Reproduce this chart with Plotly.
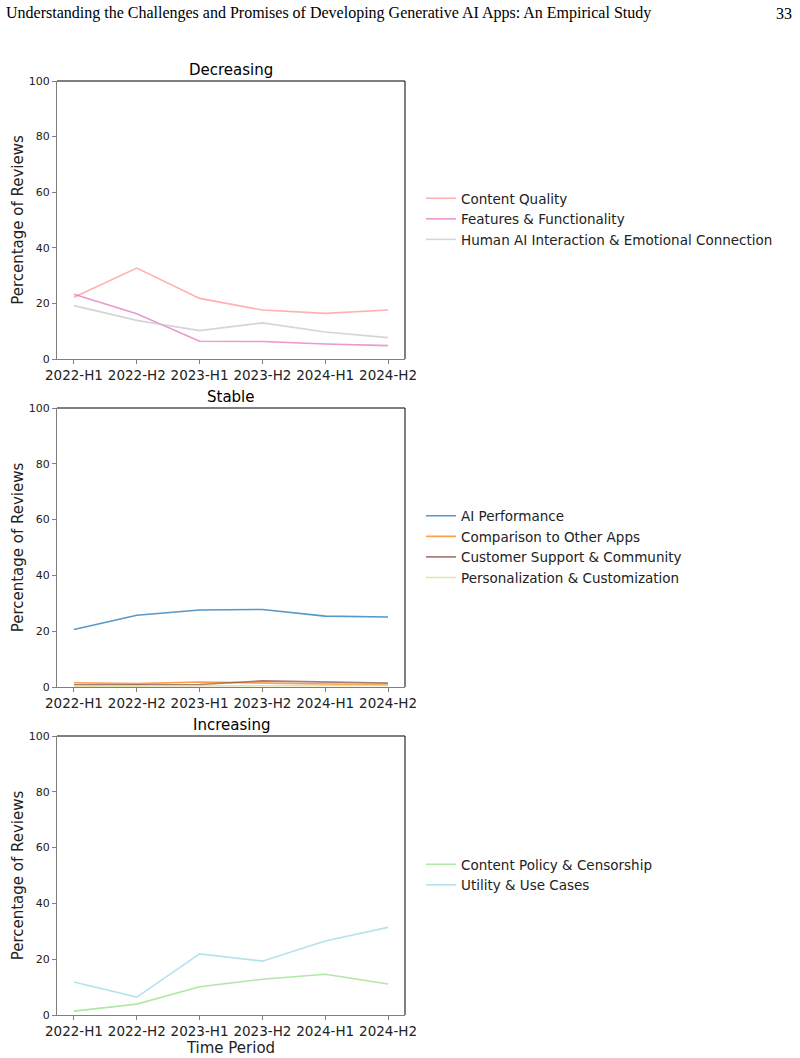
import plotly.graph_objects as go

periods = ["2022-H1", "2022-H2", "2023-H1", "2023-H2", "2024-H1", "2024-H2"]

# Decreasing
content_quality = [22.2, 32.7, 21.8, 17.6, 16.4, 17.6]
features_functionality = [23.3, 16.3, 6.4, 6.3, 5.4, 4.8]
human_ai_interaction = [19.2, 13.9, 10.2, 13.0, 9.7, 7.7]

# Stable
ai_performance = [20.6, 25.7, 27.6, 27.8, 25.4, 25.1]
comparison_other_apps = [1.5, 1.2, 1.8, 1.5, 1.0, 0.7]
customer_support = [0.8, 0.8, 0.9, 2.2, 1.7, 1.4]
personalization = [0.3, 0.3, 0.3, 0.5, 0.5, 0.6]

# Increasing
content_policy = [1.4, 3.9, 10.1, 12.8, 14.6, 11.1]
utility_use_cases = [11.8, 6.4, 21.9, 19.3, 26.5, 31.4]

groups = [
    ("Decreasing", [
        ("Content Quality", content_quality, "#ff9896"),
        ("Features & Functionality", features_functionality, "#e377c2"),
        ("Human AI Interaction & Emotional Connection", human_ai_interaction, "#c7c7c7"),
    ]),
    ("Stable", [
        ("AI Performance", ai_performance, "#1f77b4"),
        ("Comparison to Other Apps", comparison_other_apps, "#ff7f0e"),
        ("Customer Support & Community", customer_support, "#8c564b"),
        ("Personalization & Customization", personalization, "#dbdb8d"),
    ]),
    ("Increasing", [
        ("Content Policy & Censorship", content_policy, "#98df8a"),
        ("Utility & Use Cases", utility_use_cases, "#9edae5"),
    ]),
]

W, H = 800, 1058
x0, x1 = 57, 405
panels = [(81, 359), (408, 687), (736, 1015)]
legend_y = [219, 547, 875]

def fy(px):
    return 1 - px / H

fig = go.Figure()
FONT = "DejaVu Sans"

for i, ((title, series), (top, bot)) in enumerate(zip(groups, panels)):
    n = i + 1
    xa = "x" if n == 1 else f"x{n}"
    ya = "y" if n == 1 else f"y{n}"
    lg = "legend" if n == 1 else f"legend{n}"
    for name, vals, color in series:
        fig.add_trace(go.Scatter(
            x=list(range(len(periods))), y=vals, name=name, mode="lines",
            line=dict(color=color, width=1.6), opacity=0.75,
            xaxis=xa, yaxis=ya, legend=lg,
        ))
    xkey = "xaxis" if n == 1 else f"xaxis{n}"
    ykey = "yaxis" if n == 1 else f"yaxis{n}"
    fig.layout[xkey] = dict(
        domain=[x0 / W, x1 / W], anchor=ya, range=[-0.27, 5.27], automargin=False,
        tickmode="array", tickvals=list(range(len(periods))), ticktext=periods,
        showgrid=False, zeroline=False, showline=True, linecolor="#7f7f7f", linewidth=1.2,
        ticks="outside", ticklen=4, tickcolor="#7f7f7f",
        tickfont=dict(family=FONT, size=13.5, color="#222"),
        title=dict(text="Time Period" if n == 3 else "", font=dict(family=FONT, size=15, color="#222"), standoff=2),
    )
    fig.layout[ykey] = dict(
        domain=[fy(bot), fy(top)], anchor=xa, range=[0, 100], automargin=False,
        tickvals=[0, 20, 40, 60, 80, 100],
        showgrid=False, zeroline=False, showline=True, linecolor="#7f7f7f", linewidth=1.2,
        ticks="outside", ticklen=4, tickcolor="#7f7f7f",
        tickfont=dict(family=FONT, size=11, color="#222"),
        title=dict(text="Percentage of Reviews", font=dict(family=FONT, size=15, color="#222"), standoff=1),
    )
    # top and right spines
    fig.add_shape(type="line", xref="paper", yref="paper", x0=x0 / W, x1=x1 / W, y0=fy(top), y1=fy(top),
                  line=dict(color="black", width=1))
    fig.add_shape(type="line", xref="paper", yref="paper", x0=x1 / W, x1=x1 / W, y0=fy(top), y1=fy(bot),
                  line=dict(color="black", width=1))
    fig.add_annotation(text=title, xref="paper", yref="paper", x=(x0 + x1) / 2 / W, y=fy(top - 11),
                       xanchor="center", yanchor="middle", showarrow=False,
                       font=dict(family=FONT, size=15, color="black"))
    fig.layout[lg] = dict(
        x=421 / W, y=fy(legend_y[i]), xanchor="left", yanchor="middle",
        bgcolor="rgba(0,0,0,0)", font=dict(family=FONT, size=13.5, color="#222"),
        tracegroupgap=0, itemwidth=30,
    )

fig.add_annotation(text="Understanding the Challenges and Promises of Developing Generative AI Apps: An Empirical Study",
                   xref="paper", yref="paper", x=4 / W, y=fy(13), xanchor="left", yanchor="middle",
                   showarrow=False, font=dict(family="Liberation Serif", size=16, color="black"))
fig.add_annotation(text="33", xref="paper", yref="paper", x=794 / W, y=fy(13), xanchor="right", yanchor="middle",
                   showarrow=False, font=dict(family="Liberation Serif", size=16, color="black"))

fig.update_layout(
    width=W, height=H, margin=dict(l=0, r=0, t=0, b=0, autoexpand=False),
    paper_bgcolor="white", plot_bgcolor="white", showlegend=True,
)

fig.write_html("out.html")
